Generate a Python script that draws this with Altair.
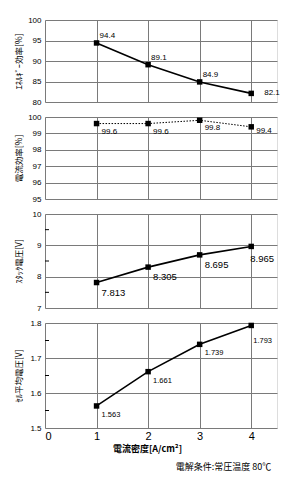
import altair as alt
import pandas as pd

density = [1, 2, 3, 4]
energy_eff = [94.4, 89.1, 84.9, 82.1]
current_eff = [99.6, 99.6, 99.8, 99.4]
stack_v = [7.813, 8.305, 8.695, 8.965]
cell_v = [1.563, 1.661, 1.739, 1.793]

x_ticks = [0, 1, 2, 3, 4]
minor_stack = [7.5, 8.5, 9.5]
minor_cell = [1.55, 1.65, 1.75]

FONT = "Liberation Sans"
JP = "Noto Sans CJK JP"
GRID = "#7a7a7a"


def panel(vals, domain, yticks, title, h, fmt, fs, dx, dy, ldx, ldy,
          dash=None, lw=1.6, minor=None, show_x=False, yfmt="d"):
    df = pd.DataFrame({"x": density, "y": vals})
    if show_x:
        xaxis = alt.Axis(values=x_ticks, grid=True, gridColor=GRID, gridWidth=1,
                         labels=True, ticks=False, domain=False,
                         title="電流密度[A/cm²]",
                         labelFont=FONT, labelFontSize=11, labelColor="black",
                         labelPadding=2, titleFont=JP, titleFontSize=9,
                         titleFontWeight="bold", titleColor="black",
                         titlePadding=3, titleX=102)
    else:
        xaxis = alt.Axis(values=x_ticks, grid=True, gridColor=GRID, gridWidth=1,
                         labels=False, ticks=False, domain=False, title=None)
    yscale = alt.Scale(domain=domain, nice=False, zero=False)
    x = alt.X("x:Q", scale=alt.Scale(domain=[0, 4.5], nice=False), axis=xaxis)
    y = alt.Y("y:Q", scale=yscale,
              axis=alt.Axis(values=yticks, grid=True, gridColor=GRID,
                            gridWidth=1, ticks=False, domain=False,
                            labelFont=FONT, labelFontSize=8, labelColor="black",
                            labelPadding=4, format=yfmt, title=title,
                            titleFont=JP, titleFontSize=8.5,
                            titleFontWeight="normal", titleColor="black",
                            titleX=-27, titleY=h / 2, titleBaseline="middle",
                            titleAngle=270))
    base = alt.Chart(df).encode(x=x, y=y)
    line_kw = dict(color="black", strokeWidth=lw)
    if dash:
        line_kw["strokeDash"] = dash
    line = base.mark_line(**line_kw)
    pts = base.mark_square(color="black", size=30, opacity=1)
    txt = base.transform_filter("datum.x < 4").mark_text(
        align="left", baseline="middle", dx=dx, dy=dy, font=FONT, fontSize=fs,
        fill="black").encode(text=alt.Text("y:Q", format=fmt))
    txt_last = base.transform_filter("datum.x == 4").mark_text(
        align="left", baseline="middle", dx=ldx, dy=ldy, font=FONT, fontSize=fs,
        fill="black").encode(text=alt.Text("y:Q", format=fmt))
    layers = [line, pts, txt, txt_last]
    if minor:
        mdf = pd.DataFrame({"y": minor})
        layers.append(alt.Chart(mdf).mark_rule(color="black", strokeWidth=1)
                      .encode(y=y, x=alt.value(0), x2=alt.value(4)))
    return alt.layer(*layers).properties(width=232, height=h)


p1 = panel(energy_eff, [80, 100], [80, 85, 90, 95, 100], "ｴﾈﾙｷﾞｰ効率[%]", 82,
           ".1f", 8, 3, -7, 13, 0)
p2 = panel(current_eff, [95, 100], [95, 96, 97, 98, 99, 100], "電流効率[%]", 82,
           ".1f", 8, 5, 8, 5, 4, dash=[1.5, 1.5], lw=1)
p3 = panel(stack_v, [7, 10], [7, 8, 9, 10], "ｽﾀｯｸ電圧[V]", 94,
           ".3f", 9.5, 5, 10, -1, 13, minor=minor_stack)
p4 = panel(cell_v, [1.5, 1.8], [1.5, 1.6, 1.7, 1.8], "ｾﾙ平均電圧[V]", 105,
           ".3f", 7.5, 5, 9, 2, 16, minor=minor_cell, show_x=True, yfmt=".1f")

chart = alt.vconcat(p1, p2, p3, p4, spacing=15, bounds="flush").properties(
    padding={"left": 13, "top": 15, "right": 5, "bottom": 5},
    title=alt.TitleParams("電解条件:常圧温度 80℃", orient="bottom", anchor="end",
                          font=JP, fontSize=9, fontWeight="normal",
                          color="black", offset=9, dx=-9),
).configure_view(stroke="black", strokeWidth=1.5).configure(background="white")

chart.save("out.html", embed_options={"renderer": "svg", "actions": False})
